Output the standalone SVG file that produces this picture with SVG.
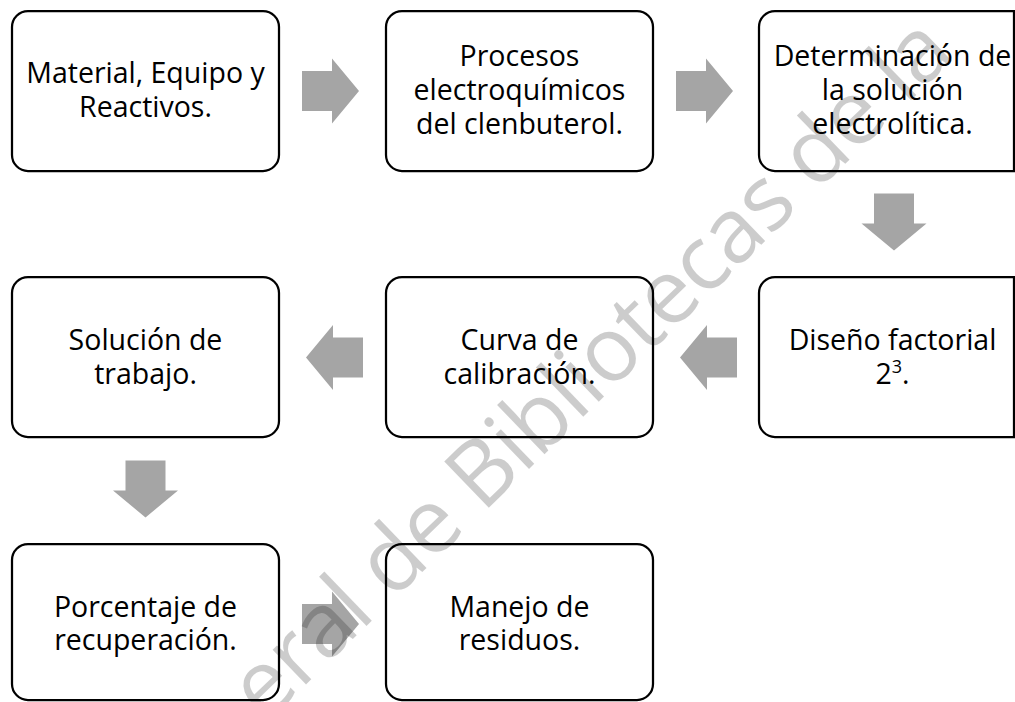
<svg xmlns="http://www.w3.org/2000/svg" xmlns:xlink="http://www.w3.org/1999/xlink" width="1015" height="702" viewBox="0 0 1015 702">
<style>
.box{fill:#ffffff;stroke:#000000;stroke-width:2.25}
.lbl{font-family:"Open Sans","Noto Sans","Liberation Sans",sans-serif;font-size:28.5px;fill:#000000;text-anchor:middle}
.arr{fill:#A5A5A5}
.wm{font-family:"Open Sans","Noto Sans","Liberation Sans",sans-serif;font-size:90px;fill:#000000;fill-opacity:0.2}
</style>
<defs>
<path id="blockArrow" d="M-28.5,-20 H1.5 V-32.5 L28.5,0 L1.5,32.5 V20 H-28.5 Z"/>
</defs>
<rect width="1015" height="702" fill="#ffffff"/>
<g id="connectors">
<use xlink:href="#blockArrow" class="arr" transform="translate(330.5,91)"/>
<use xlink:href="#blockArrow" class="arr" transform="translate(704.5,91)"/>
<use xlink:href="#blockArrow" class="arr" transform="translate(894,222) rotate(90)"/>
<use xlink:href="#blockArrow" class="arr" transform="translate(708.5,357.5) rotate(180)"/>
<use xlink:href="#blockArrow" class="arr" transform="translate(334.5,357.5) rotate(180)"/>
<use xlink:href="#blockArrow" class="arr" transform="translate(145.5,489) rotate(90)"/>
<use xlink:href="#blockArrow" class="arr" transform="translate(330.5,624)"/>
</g>
<g id="node-material">
<rect class="box" x="12" y="11" width="267" height="160" rx="16"/>
<text class="lbl" x="145.5" y="83">Material, Equipo y</text>
<text class="lbl" x="145.5" y="117">Reactivos.</text>
</g>
<g id="node-procesos">
<rect class="box" x="386" y="11" width="267" height="160" rx="16"/>
<text class="lbl" x="519.5" y="66">Procesos</text>
<text class="lbl" x="519.5" y="100">electroquímicos</text>
<text class="lbl" x="519.5" y="134">del clenbuterol.</text>
</g>
<g id="node-determinacion">
<path class="box" d="M1014,11 H775 A16,16 0 0 0 759,27 V155 A16,16 0 0 0 775,171 H1014 Z"/>
<text class="lbl" x="892.5" y="66">Determinación de</text>
<text class="lbl" x="892.5" y="100">la solución</text>
<text class="lbl" x="892.5" y="134">electrolítica.</text>
</g>
<g id="node-diseno">
<path class="box" d="M1014,277 H775 A16,16 0 0 0 759,293 V421 A16,16 0 0 0 775,437 H1014 Z"/>
<text class="lbl" x="892.5" y="350">Diseño factorial</text>
<text class="lbl" x="892.5" y="384">2<tspan font-size="18" dy="-11">3</tspan><tspan dy="11">.</tspan></text>
</g>
<g id="node-curva">
<rect class="box" x="386" y="277" width="267" height="160" rx="16"/>
<text class="lbl" x="519.5" y="350">Curva de</text>
<text class="lbl" x="519.5" y="384">calibración.</text>
</g>
<g id="node-solucion">
<rect class="box" x="12" y="277" width="267" height="160" rx="16"/>
<text class="lbl" x="145.5" y="350">Solución de</text>
<text class="lbl" x="145.5" y="384">trabajo.</text>
</g>
<g id="node-porcentaje">
<rect class="box" x="12" y="544" width="267" height="156" rx="16"/>
<text class="lbl" x="145.5" y="617">Porcentaje de</text>
<text class="lbl" x="145.5" y="650">recuperación.</text>
</g>
<g id="node-manejo">
<rect class="box" x="386" y="544" width="267" height="156" rx="16"/>
<text class="lbl" x="519.5" y="617">Manejo de</text>
<text class="lbl" x="519.5" y="650">residuos.</text>
</g>
<g id="watermark">
<text class="wm" x="265" y="724" transform="rotate(-44 265 724)" textLength="962" lengthAdjust="spacing">eral de Bibliotecas de la</text>
</g>
</svg>
